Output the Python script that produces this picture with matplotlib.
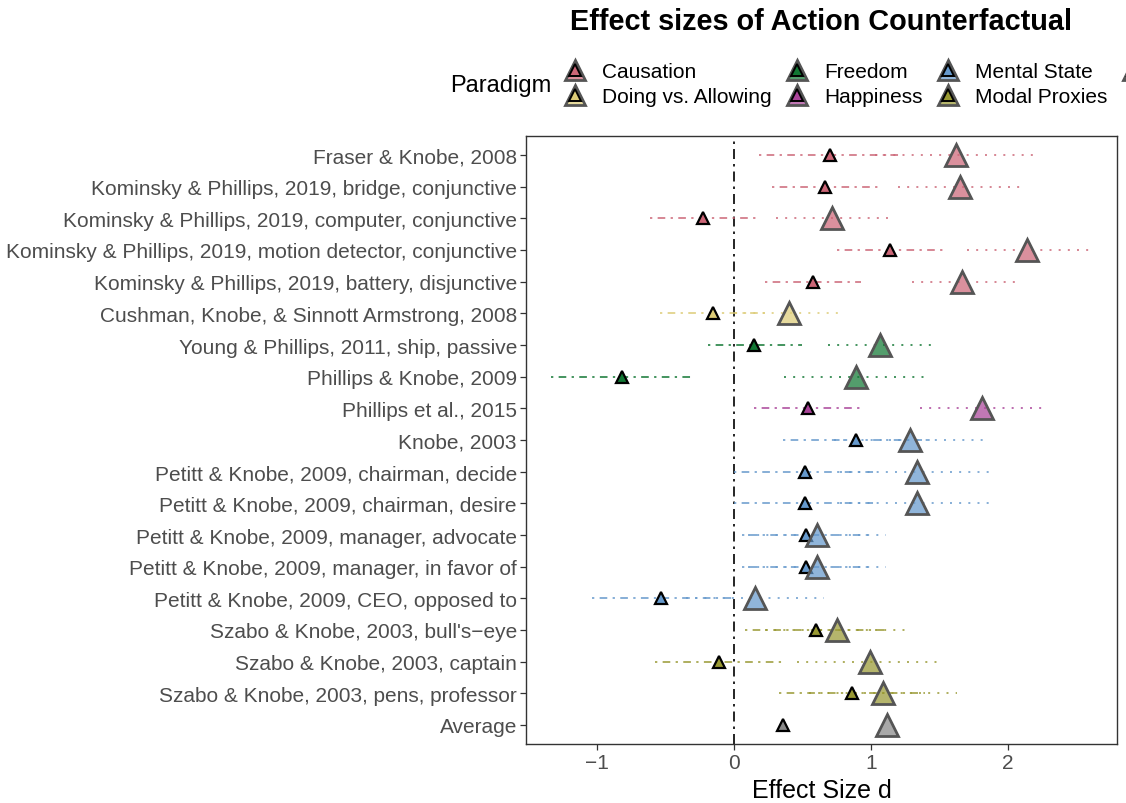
import numpy as np
import matplotlib
matplotlib.use("Agg")
import matplotlib.pyplot as plt
from matplotlib.lines import Line2D

studies = [
    "Fraser & Knobe, 2008",
    "Kominsky & Phillips, 2019, bridge, conjunctive",
    "Kominsky & Phillips, 2019, computer, conjunctive",
    "Kominsky & Phillips, 2019, motion detector, conjunctive",
    "Kominsky & Phillips, 2019, battery, disjunctive",
    "Cushman, Knobe, & Sinnott Armstrong, 2008",
    "Young & Phillips, 2011, ship, passive",
    "Phillips & Knobe, 2009",
    "Phillips et al., 2015",
    "Knobe, 2003",
    "Petitt & Knobe, 2009, chairman, decide",
    "Petitt & Knobe, 2009, chairman, desire",
    "Petitt & Knobe, 2009, manager, advocate",
    "Petitt & Knobe, 2009, manager, in favor of",
    "Petitt & Knobe, 2009, CEO, opposed to",
    "Szabo & Knobe, 2003, bull's\u2212eye",
    "Szabo & Knobe, 2003, captain",
    "Szabo & Knobe, 2003, pens, professor",
    "Average",
]
paradigm = [
    "Causation", "Causation", "Causation", "Causation", "Causation",
    "Doing vs. Allowing", "Freedom", "Freedom", "Happiness",
    "Mental State", "Mental State", "Mental State", "Mental State", "Mental State", "Mental State",
    "Modal Proxies", "Modal Proxies", "Modal Proxies", "Average",
]
orig_d = [0.70, 0.665, -0.225, 1.14, 0.58, -0.155, 0.15, -0.815, 0.54, 0.895,
          0.52, 0.52, 0.53, 0.53, -0.53, 0.60, -0.11, 0.866, 0.355]
orig_lo = [0.18, 0.28, -0.61, 0.75, 0.23, -0.54, -0.19, -1.335, 0.15, 0.36,
           0.0, 0.0, 0.06, 0.06, -1.04, 0.08, -0.58, 0.33, np.nan]
orig_hi = [1.22, 1.06, 0.175, 1.53, 0.93, 0.23, 0.50, -0.29, 0.935, 1.43,
           1.04, 1.04, 1.0, 1.0, -0.015, 1.12, 0.36, 1.40, np.nan]
rep_d = [1.62, 1.65, 0.715, 2.14, 1.67, 0.40, 1.07, 0.895, 1.815, 1.29,
         1.335, 1.335, 0.605, 0.605, 0.153, 0.753, 0.995, 1.09, 1.117]
rep_lo = [1.03, 1.20, 0.31, 1.70, 1.30, 0.01, 0.69, 0.365, 1.36, 0.73,
          0.775, 0.775, 0.10, 0.10, -0.35, 0.23, 0.46, 0.55, np.nan]
rep_hi = [2.21, 2.11, 1.13, 2.61, 2.06, 0.795, 1.46, 1.43, 2.28, 1.85,
          1.895, 1.895, 1.11, 1.11, 0.66, 1.276, 1.53, 1.63, np.nan]

paradigm_levels = ["Causation", "Doing vs. Allowing", "Freedom", "Happiness",
                   "Mental State", "Modal Proxies", "Average"]
# the last legend entry is cut off by the figure edge in the reference (label not visible)
legend_labels = ["Causation", "Doing vs. Allowing", "Freedom", "Happiness",
                 "Mental State", "Modal Proxies", ""]
palette = {
    "Causation": "#CC6677",
    "Doing vs. Allowing": "#DDCC77",
    "Freedom": "#117733",
    "Happiness": "#AA4499",
    "Mental State": "#6699CC",
    "Modal Proxies": "#999933",
    "Average": "#888888",
}

plt.rcParams['font.family'] = ['Liberation Sans', 'DejaVu Sans']

fig = plt.figure(figsize=(11.26, 8.04), dpi=100)
ax = fig.add_axes([526/1126, 1-745/804, (1117-526)/1126, (745-137)/804])

n = len(studies)
ypos = np.arange(n)[::-1]

dotdash = (0, (1.5, 3.5, 5, 3.5))
dotted = (0, (1.3, 4.7))

ax.axvline(0, color="black", lw=1.2, linestyle=(0, (6, 3, 1.5, 3)), zorder=1)

for i in range(n):
    c = palette[paradigm[i]]
    y = ypos[i]
    if not np.isnan(orig_lo[i]):
        ax.plot([orig_lo[i], orig_hi[i]], [y, y], color=c, lw=1.1, linestyle=dotdash, zorder=2)
    if not np.isnan(rep_lo[i]):
        ax.plot([rep_lo[i], rep_hi[i]], [y, y], color=c, lw=1.1, linestyle=dotted, zorder=2)

for i in range(n):
    c = palette[paradigm[i]]
    y = ypos[i]
    ax.plot(orig_d[i], y, marker="^", ms=9, mfc=c, mec="black", mew=1.6,
            linestyle="none", zorder=3)
    ax.plot(rep_d[i], y, marker="^", ms=15.5, mfc=matplotlib.colors.to_rgba(c, 0.72),
            mec="#555555", mew=2.0, linestyle="none", zorder=4)

ax.set_xlim(-1.52, 2.80)
ax.set_ylim(-0.6, n - 0.4)
ax.set_yticks(ypos)
ax.set_yticklabels(studies, fontsize=15, color="#4D4D4D")
ax.set_xticks([-1, 0, 1, 2])
ax.set_xticklabels(["\u22121", "0", "1", "2"], fontsize=15, color="#4D4D4D")
ax.tick_params(axis="both", length=4, width=0.9, color="#333333", pad=2.5)
for s in ax.spines.values():
    s.set_linewidth(1.0)
    s.set_color("#333333")
ax.set_xlabel("Effect Size d", fontsize=18, labelpad=4.5)

fig.text(821/1126, 1-22/804, "Effect sizes of Action Counterfactual", ha="center", va="center",
         fontsize=20.8, fontweight="bold")

handles = []
for p in paradigm_levels:
    c = palette[p]
    big = Line2D([], [], marker="^", ms=15, mfc=matplotlib.colors.to_rgba(c, 0.72),
                 mec="#555555", mew=2.0, linestyle="none")
    small = Line2D([], [], marker="^", ms=8, mfc=c, mec="black", mew=1.4, linestyle="none")
    handles.append((big, small))

fig.text(450/1126, 1-86/804, "Paradigm", ha="left", va="center", fontsize=17)
leg = fig.legend(handles, legend_labels, loc="upper left",
                 bbox_to_anchor=(560/1126, 1-63/804), ncol=4, frameon=False,
                 fontsize=15, handlelength=1.4, handletextpad=0.6, columnspacing=0.53,
                 labelspacing=0.3, borderpad=0, borderaxespad=0)

fig.savefig("out.png", dpi=100)
